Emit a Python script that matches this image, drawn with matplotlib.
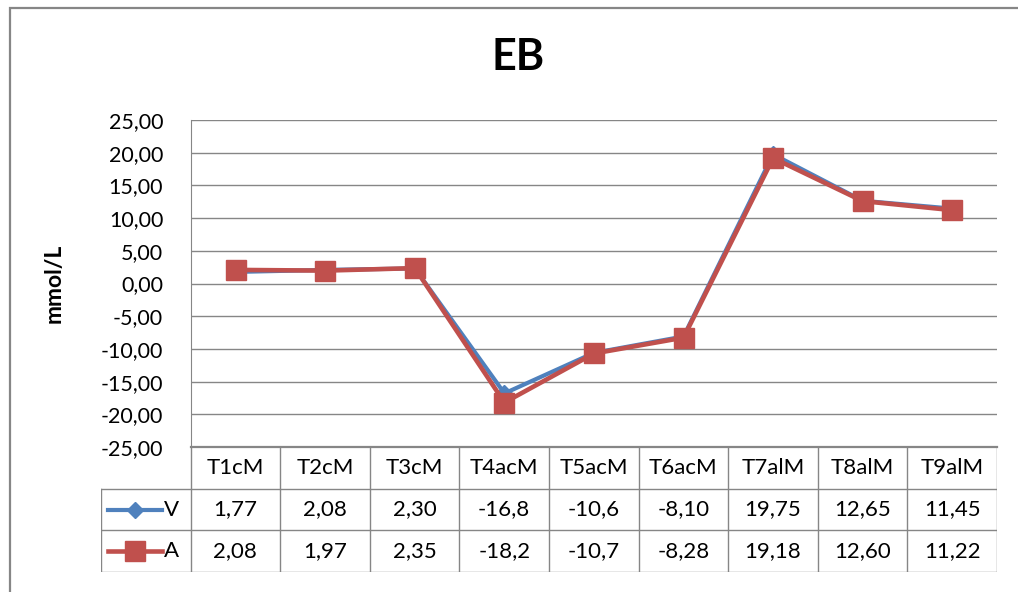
import numpy as np
import matplotlib
matplotlib.use("Agg")
import matplotlib.pyplot as plt
from matplotlib.ticker import FuncFormatter, MultipleLocator
from matplotlib.patches import Rectangle

# data
categories = ["T1cM", "T2cM", "T3cM", "T4acM", "T5acM", "T6acM", "T7alM", "T8alM", "T9alM"]
v_vals = [1.77, 2.08, 2.30, -16.8, -10.6, -8.10, 19.75, 12.65, 11.45]
a_vals = [2.08, 1.97, 2.35, -18.2, -10.7, -8.28, 19.18, 12.60, 11.22]
v_text = ["1,77", "2,08", "2,30", "-16,8", "-10,6", "-8,10", "19,75", "12,65", "11,45"]
a_text = ["2,08", "1,97", "2,35", "-18,2", "-10,7", "-8,28", "19,18", "12,60", "11,22"]

blue = "#4F81BD"
red = "#C0504D"
grey = "#868686"

plt.rcParams['font.family'] = ['Lato', 'DejaVu Sans']

W, H = 1018, 592
fig = plt.figure(figsize=(W/100, H/100), dpi=100)

# chart border
fig.add_artist(Rectangle((10/W, -0.1), 1.2, 1 - 8/H + 0.1, transform=fig.transFigure,
                         fill=False, edgecolor=grey, lw=1.6))

ax = fig.add_axes([191/W, 145/H, 806/W, 327/H])
x = np.arange(len(categories))
ax.plot(x, v_vals, color=blue, lw=3, marker="D", ms=8, zorder=3)
ax.plot(x, a_vals, color=red, lw=3.3, marker="s", ms=14, zorder=4)
ax.set_xlim(-0.5, len(categories) - 0.5)
ax.set_ylim(-25, 25)
ax.yaxis.set_major_locator(MultipleLocator(5))
ax.yaxis.set_major_formatter(FuncFormatter(lambda v, p: ("%.2f" % v).replace(".", ",")))
ax.grid(axis="y", color=grey, lw=1)
ax.set_axisbelow(True)
ax.tick_params(axis="y", length=0, pad=20, labelsize=15.5)
ax.tick_params(axis="x", length=0, labelbottom=False)
for s in ["top", "right"]:
    ax.spines[s].set_visible(False)
ax.spines["left"].set_color(grey)
ax.spines["bottom"].set_color(grey)
ax.spines["bottom"].set_linewidth(1.6)
ax.set_ylabel("mmol/L", fontsize=16.5, fontweight="bold", labelpad=26)
fig.text(518/W, 1 - 57/H, "EB", ha="center", va="center", fontsize=31, fontweight="bold")

# data table
tx = fig.add_axes([101/W, 20/H, 896/W, 125/H])
n = len(categories)
tx.set_xlim(-1.5, n - 0.5)
tx.set_ylim(0, 3)
tx.axis("off")
for i in range(n + 1):
    tx.plot([i - 0.5, i - 0.5], [0, 3], color=grey, lw=1)
tx.plot([-1.5, -1.5], [0, 2], color=grey, lw=1)
for yy in [0, 1, 2]:
    tx.plot([-1.5, n - 0.5], [yy, yy], color=grey, lw=1)
for i, c in enumerate(categories):
    tx.text(i, 2.5, c, ha="center", va="center", fontsize=16)
    tx.text(i, 1.5, v_text[i], ha="center", va="center", fontsize=16)
    tx.text(i, 0.5, a_text[i], ha="center", va="center", fontsize=16)
# legend keys
tx.plot([-1.42, -0.82], [1.5, 1.5], color=blue, lw=3)
tx.plot([-1.12], [1.5], color=blue, marker="D", ms=8)
tx.plot([-1.42, -0.82], [0.5, 0.5], color=red, lw=3.3)
tx.plot([-1.12], [0.5], color=red, marker="s", ms=14)
tx.text(-0.8, 1.5, "V", ha="left", va="center", fontsize=16)
tx.text(-0.8, 0.5, "A", ha="left", va="center", fontsize=16)

fig.savefig("out.png", dpi=100)
